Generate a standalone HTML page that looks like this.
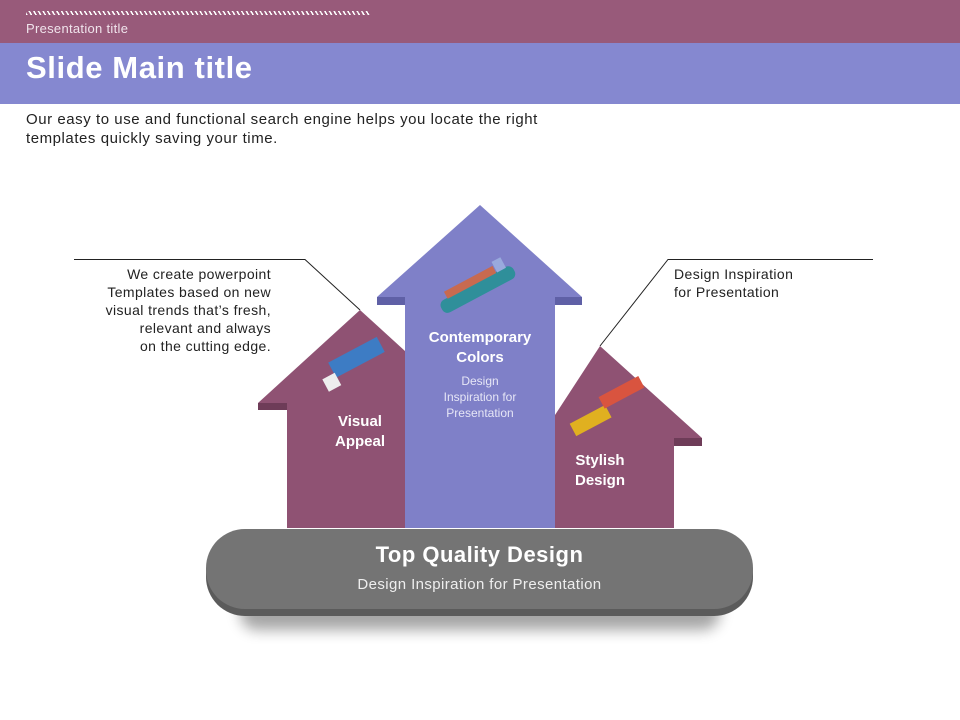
<!DOCTYPE html>
<html><head><meta charset="utf-8"><style>
body{margin:0;width:960px;height:720px;background:#fff;position:relative;overflow:hidden;font-family:"Liberation Sans",sans-serif}
.t{position:absolute;white-space:nowrap}
</style></head><body>
<div style="position:absolute;left:0;top:0;width:960px;height:43px;background:#985a7a"></div>
<div style="position:absolute;left:26px;top:11px;width:344px;height:4px;background:repeating-linear-gradient(60deg,#fff 0 1.5px,transparent 1.5px 4px)"></div>
<div class="t" style="left:26px;top:21px;font-size:13px;letter-spacing:0.3px;color:#f0e4ec">Presentation title</div>
<div style="position:absolute;left:0;top:43px;width:960px;height:61px;background:#8588d0"></div>
<div class="t" style="left:26px;top:50px;font-size:31px;letter-spacing:0.6px;font-weight:bold;color:#fff">Slide Main title</div>
<div class="t" style="left:26px;top:110px;font-size:15px;letter-spacing:0.55px;line-height:19px;color:#222">Our easy to use and functional search engine helps you locate the right<br>templates quickly saving your time.</div>
<svg width="960" height="720" style="position:absolute;left:0;top:0">
<defs><filter id="sh" x="-20%" y="-20%" width="140%" height="160%"><feGaussianBlur stdDeviation="7"/></filter></defs>
<polyline points="74,259.5 305,259.5 360,310" fill="none" stroke="#222" stroke-width="1"/>
<polyline points="873,259.5 668,259.5 600,346" fill="none" stroke="#222" stroke-width="1"/>
<polygon points="360,310 462,403 405,403 405,528 287,528 287,410 258,410 258,403" fill="#8f5273"/>
<rect x="258" y="403" width="29" height="7" fill="#6e3c58"/>
<polygon points="600,346 702,438 674,438 674,528 555,528 555,438 540,438" fill="#8f5273"/>
<rect x="674" y="438" width="28" height="8" fill="#6e3c58"/>
<polygon points="480,205 582,297 555,297 555,528 405,528 405,297 377,297" fill="#7f80c8"/>
<rect x="377" y="297" width="28" height="8" fill="#5f60a6"/>
<rect x="555" y="297" width="27" height="8" fill="#5f60a6"/>
<rect x="240" y="595" width="480" height="35" rx="17" fill="#000" opacity=".35" filter="url(#sh)"/>
<rect x="206" y="535" width="547" height="81" rx="39" fill="#5b5b5b"/>
<rect x="206" y="529" width="547" height="80" rx="39" fill="#747474"/>
</svg>
<div class="t" style="left:40px;top:265px;width:231px;text-align:right;font-size:14px;letter-spacing:0.4px;line-height:18px;color:#222">We create powerpoint<br>Templates based on new<br>visual trends that’s fresh,<br>relevant and always<br>on the cutting edge.</div>
<div class="t" style="left:674px;top:265px;font-size:14px;letter-spacing:0.4px;line-height:18px;color:#222">Design Inspiration<br>for Presentation</div>
<div class="t" style="left:300px;top:412px;width:120px;text-align:center;font-size:15px;line-height:20px;font-weight:bold;color:#fff">Visual<br>Appeal</div>
<div class="t" style="left:405px;top:328px;width:150px;text-align:center;font-size:15px;line-height:20px;font-weight:bold;color:#fff">Contemporary<br>Colors</div>
<div class="t" style="left:405px;top:373px;width:150px;text-align:center;font-size:12px;line-height:16px;color:#e6e6f6">Design<br>Inspiration for<br>Presentation</div>
<div class="t" style="left:540px;top:451px;width:120px;text-align:center;font-size:15px;line-height:20px;font-weight:bold;color:#fff">Stylish<br>Design</div>
<div class="t" style="left:206px;top:542px;width:547px;text-align:center;font-size:22px;letter-spacing:0.5px;font-weight:bold;color:#fff">Top Quality Design</div>
<div class="t" style="left:206px;top:576px;width:547px;text-align:center;font-size:15px;letter-spacing:0.4px;color:#eee">Design Inspiration for Presentation</div>
<svg width="960" height="720" style="position:absolute;left:0;top:0">
<g transform="rotate(-28 477 290)"><rect x="437" y="283" width="82" height="14" rx="6" fill="#2f8f9a"/><rect x="447" y="276" width="55" height="8" fill="#c86a50"/><rect x="503" y="272" width="10" height="12" fill="#9ad"/></g>
<g transform="rotate(-28 352 367)"><rect x="333" y="352" width="55" height="17" fill="#3d7cc4"/><rect x="320" y="364" width="14" height="14" fill="#eee"/></g>
<g transform="rotate(-28 605 405)"><rect x="565" y="405" width="40" height="14" fill="#e0b020"/><rect x="603" y="395" width="45" height="13" fill="#d9543f"/></g>
</svg>
</body></html>
